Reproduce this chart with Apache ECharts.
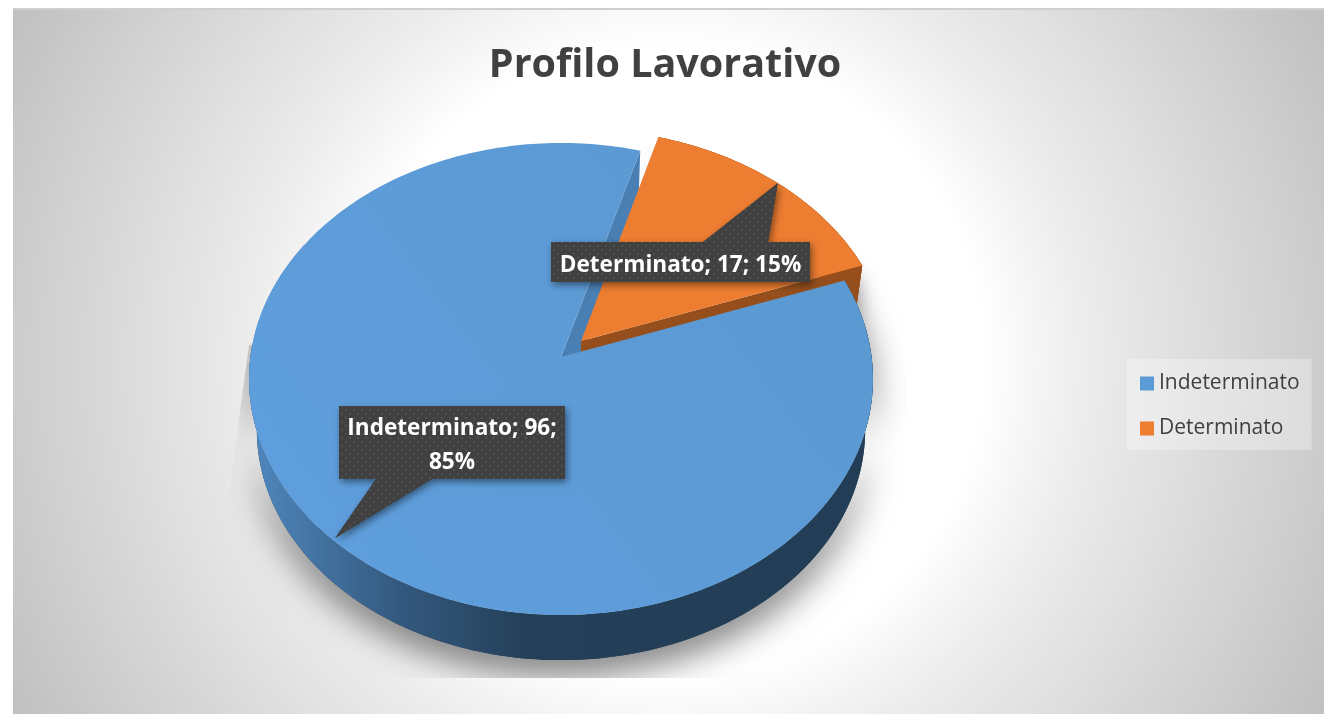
<!DOCTYPE html>
<html><head><meta charset="utf-8">
<style>html,body{margin:0;padding:0;background:#fff}#c{width:1324px;height:714px}</style>
<script src="https://cdn.jsdelivr.net/npm/echarts@6/dist/echarts.min.js"></script>
</head><body><div id="c"></div>
<script>
const titleText = 'Profilo Lavorativo';
const categories = ['Indeterminato', 'Determinato'];
const values = [96, 17];
const colors = ['#5b9bd5', '#ed7d31'];
const startAngle = 70.3;      // clockwise from the back of the disc
const explodeSize = 0.095;

const cx = 561, apexY = 357, persp = 0.0932, ax = 310.6, ay = 234;
const dropScale = 0.975, dropShift = 51.5;
const total = values.reduce((a, b) => a + b, 0);
const rad = d => d * Math.PI / 180;
const spans = values.map(v => v / total * 360);
const starts = [startAngle, startAngle + spans[0]];

function proj(X, Y) { const d = 1 + persp * Y; return [cx + ax * X / d, apexY - ay * Y / d]; }
function drop(p) { return [cx + (p[0] - cx) * dropScale, apexY + dropShift + (p[1] - apexY) * dropScale]; }
function offset(i) {
  if (i === 0) return [0, 0];
  const m = rad(starts[i] + spans[i] / 2);
  return [explodeSize * Math.sin(m), explodeSize * Math.cos(m)];
}
function rimPt(i, deg, r) {
  const o = offset(i), t = rad(deg), q = r === undefined ? 1 : r;
  return proj(o[0] + q * Math.sin(t), o[1] + q * Math.cos(t));
}
function arc(i, a, b) {
  const n = Math.max(8, Math.ceil(Math.abs(b - a))), out = [];
  for (let k = 0; k <= n; k++) out.push(rimPt(i, a + (b - a) * k / n));
  return out;
}
const poly = (pts, style, z2) => ({ type: 'polygon', shape: { points: pts }, style, z2, silent: true });

function dotPattern() {
  const c = document.createElement('canvas'); c.width = 8; c.height = 8;
  const g = c.getContext('2d');
  g.fillStyle = '#404040'; g.fillRect(0, 0, 8, 8);
  g.fillStyle = '#505050';
  g.fillRect(1, 1, 2, 2); g.fillRect(5, 5, 2, 2);
  return c;
}
const pattern = { image: dotPattern(), repeat: 'repeat' };

function callout(i, box, base, text, z2) {
  const m = starts[i] + spans[i] / 2;
  const tip = rimPt(i, m, i === 0 ? 0.99 : 1.0);
  const above = tip[1] < box[1];
  const yb = above ? box[1] : box[3];
  const shadow = { shadowBlur: 7, shadowColor: 'rgba(0,0,0,0.45)', shadowOffsetX: 2, shadowOffsetY: 3 };
  return [
    poly([[box[0], box[1]], [box[2], box[1]], [box[2], box[3]], [box[0], box[3]]], Object.assign({ fill: '#404040' }, shadow), z2),
    poly([[base[0], yb], tip, [base[1], yb]], Object.assign({ fill: '#404040' }, shadow), z2),
    poly([[box[0], box[1]], [box[2], box[1]], [box[2], box[3]], [box[0], box[3]]], { fill: pattern }, z2 + 1),
    poly([[base[0], yb], tip, [base[1], yb]], { fill: pattern }, z2 + 1),
    { type: 'text', z2: z2 + 2, silent: true, style: {
        text, x: (box[0] + box[2]) / 2, y: (box[1] + box[3]) / 2 + 3.5, fill: '#ffffff',
        font: 'bold 22.6px "Open Sans", sans-serif', lineHeight: 34, align: 'center', verticalAlign: 'middle' } }
  ];
}
const pct = i => Math.round(values[i] / total * 100) + '%';

const bgFill = { type: 'radial', x: 668, y: 361, r: 750, global: true, colorStops: [
  { offset: 0, color: '#ffffff' }, { offset: 0.42, color: '#ffffff' },
  { offset: 0.55, color: '#ededed' }, { offset: 1, color: '#bfbfbf' } ] };

function rect(x0, y0, x1, y1) { return [[x0, y0], [x1, y0], [x1, y1], [x0, y1]]; }

function renderBlue() {
  const s = starts[0], e = s + spans[0];
  const top = arc(0, s, e), apex = proj(0, 0);
  const bot = top.map(drop).reverse();
  const endPt = rimPt(0, e);
  const front = arc(0, s, 300);
  const rimFill = { type: 'linear', x: 0, y: 0, x2: 1, y2: 0, colorStops: [
    { offset: 0, color: '#5088be' }, { offset: 0.24, color: '#34597f' },
    { offset: 0.45, color: '#243f58' }, { offset: 1, color: '#223d55' } ] };
  const topFill = { type: 'linear', x: 1, y: 0, x2: 0, y2: 1, colorStops: [
    { offset: 0, color: '#5a98d0' }, { offset: 1, color: '#5f9fde' } ] };
  return { type: 'group', children: [
    poly(top.concat(bot), { fill: '#223d55', shadowBlur: 34, shadowColor: 'rgba(0,0,0,0.5)', shadowOffsetY: 16 }, 2),
    // the soft shadow stops at a hard edge in the picture
    poly([[13, 10], [1000, 10], [1000, 262], [560, 300], [249, 345], [228, 500], [228, 678], [13, 678]], { fill: bgFill }, 3),
    poly(rect(13, 678, 1324, 714), { fill: bgFill }, 3),
    poly(rect(906, 262, 1100, 714), { fill: bgFill }, 3),
    poly([apex, endPt, drop(endPt), drop(apex)], { fill: '#4a7fb3' }, 5),
    poly(front.concat(front.map(drop).reverse()), { fill: rimFill }, 20),
    poly([apex].concat(top), { fill: topFill }, 30),
    ...callout(0, [339, 406, 565, 479], [376, 432], categories[0] + '; ' + values[0] + ';\n' + pct(0), 40)
  ] };
}
function renderOrange() {
  const s = starts[1], e = s + spans[1];
  const top = arc(1, s, e), o = offset(1), apex = proj(o[0], o[1]);
  const bot = top.map(drop).reverse();
  const ePt = rimPt(1, e);
  return { type: 'group', children: [
    poly(top.concat(bot), { fill: '#a5561e', shadowBlur: 18, shadowColor: 'rgba(0,0,0,0.35)', shadowOffsetY: 24 }, 4),
    poly(top.concat(bot), { fill: '#a5561e' }, 8),
    poly([apex, ePt, drop(ePt), drop(apex)], { fill: '#964f1c' }, 9),
    poly([apex].concat(top), { fill: colors[1] }, 10),
    ...callout(1, [551, 242, 810, 282], [703, 768], categories[1] + '; ' + values[1] + '; ' + pct(1), 40)
  ] };
}

const chart = echarts.init(document.getElementById('c'), null, { renderer: 'canvas' });
chart.setOption({
  animation: false,
  backgroundColor: '#ffffff',
  title: { text: titleText, left: 660, top: 41, textAlign: 'center',
    textStyle: { fontFamily: '"Open Sans", sans-serif', fontWeight: 'bold', fontSize: 39.5, color: '#404040' } },
  legend: { orient: 'vertical', left: 1127, top: 359, icon: 'rect', itemWidth: 14, itemHeight: 14, itemGap: 24,
    padding: [14, 12, 11, 13], backgroundColor: 'rgba(255,255,255,0.3)', data: categories,
    selectedMode: false, itemStyle: { borderWidth: 0 },
    textStyle: { fontFamily: '"Open Sans", sans-serif', fontSize: 21, color: '#404040' } },
  graphic: [
    { type: 'rect', z: -10, silent: true, shape: { x: 13, y: 8, width: 1311, height: 706 }, style: { fill: bgFill } },
    { type: 'rect', z: -9, silent: true, shape: { x: 13, y: 8, width: 1311, height: 2 }, style: { fill: '#cfcfcf' } },
    { type: 'rect', z: -9, silent: true, shape: { x: 13, y: 8, width: 1, height: 706 }, style: { fill: '#d8d8d8' } }
  ],
  series: [
    { name: categories[0], type: 'custom', coordinateSystem: 'none', itemStyle: { color: colors[0] }, clip: false,
      data: [values[0]], renderItem: renderBlue, silent: true },
    { name: categories[1], type: 'custom', coordinateSystem: 'none', itemStyle: { color: colors[1] }, clip: false,
      data: [values[1]], renderItem: renderOrange, silent: true }
  ]
});
</script></body></html>
